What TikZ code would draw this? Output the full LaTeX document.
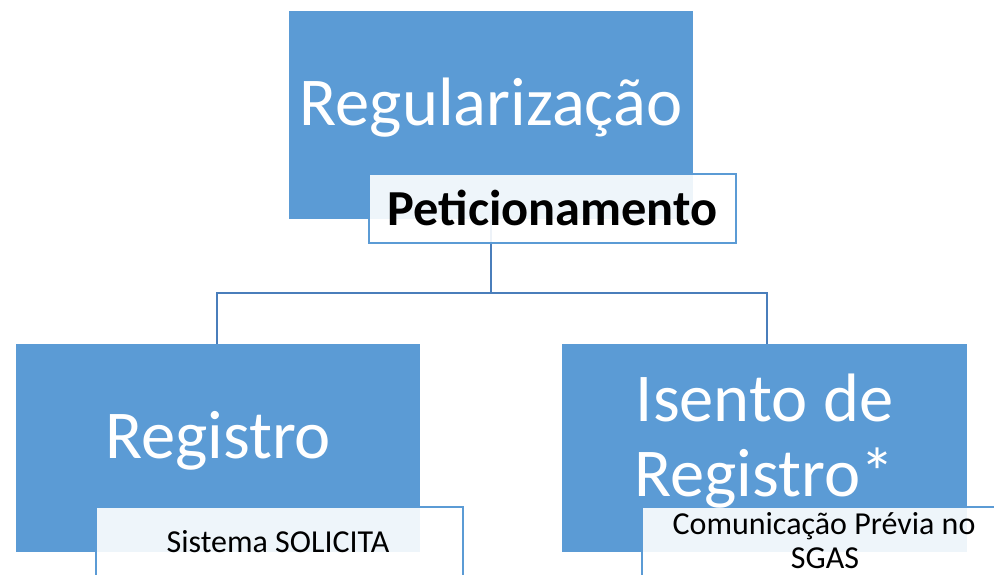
\documentclass[tikz,border=0pt]{standalone}
\usepackage{fontspec}
\setmainfont{Carlito}
\definecolor{boxblue}{HTML}{5B9BD5}
\definecolor{connblue}{RGB}{74,126,187}
\pgfdeclarelayer{bg}
\pgfsetlayers{bg,main}
\tikzset{
  bigbox/.style={rectangle, fill=boxblue, draw=none, inner sep=0pt},
  subbox/.style={rectangle, fill=white, fill opacity=0.9, draw=boxblue, line width=2.4pt, inner sep=0pt},
  conn/.style={draw=connblue, line width=2.8pt},
  bigtext/.style={anchor=base, text=white, inner sep=0pt, font=\fontsize{68.5}{75}\selectfont},
  pettext/.style={anchor=base, text=black, inner sep=0pt, font=\fontsize{50.4}{55}\selectfont\bfseries},
  smalltext/.style={anchor=base, text=black, inner sep=0pt, font=\fontsize{32}{35}\selectfont}
}
\begin{document}
\begin{tikzpicture}[x=1pt,y=-1pt]
\begin{pgfonlayer}{bg}
\fill[white] (0,0) rectangle (994,574);
\end{pgfonlayer}
\clip (0,0) rectangle (994,574);
% boxes
\node[bigbox, minimum width=404pt, minimum height=208pt] (top) at (491,115) {};
\node[bigbox, minimum width=404pt, minimum height=208pt] (left) at (218,448) {};
\node[bigbox, minimum width=405pt, minimum height=208pt] (right) at (764.5,448) {};
% connectors (behind the boxes)
\coordinate (mid) at (491,293);
\begin{pgfonlayer}{bg}
\draw[conn] (top.center) -- (mid);
\draw[conn] (mid) -| ([xshift=-1pt]left.center);
\draw[conn] (mid) -| ([xshift=2.5pt]right.center);
\end{pgfonlayer}
% sub boxes
\node[subbox, minimum width=367pt, minimum height=69pt] (pet) at (552.5,208.5) {};
\node[subbox, minimum width=367pt, minimum height=69pt] (lsub) at (279.5,541.5) {};
\node[subbox, minimum width=367pt, minimum height=69pt] (rsub) at (825.5,541.5) {};
% texts
\node[bigtext] (toptext) at (491,125) {Regularização};
\node[pettext] (pettxt) at (552.5,225) {Peticionamento};
\node[bigtext] (lefttext) at (218,458) {Registro};
\node[bigtext] (righttext1) at (764.5,421) {Isento de};
\node[bigtext] (righttext2) at (764.5,496) {Registro*};
\node[smalltext] (lsubtext) at (278,552) {Sistema SOLICITA};
\node[smalltext] (rsubtext1) at (824,534) {Comunicação Prévia no};
\node[smalltext] (rsubtext2) at (825,568) {SGAS};
\end{tikzpicture}
\end{document}
